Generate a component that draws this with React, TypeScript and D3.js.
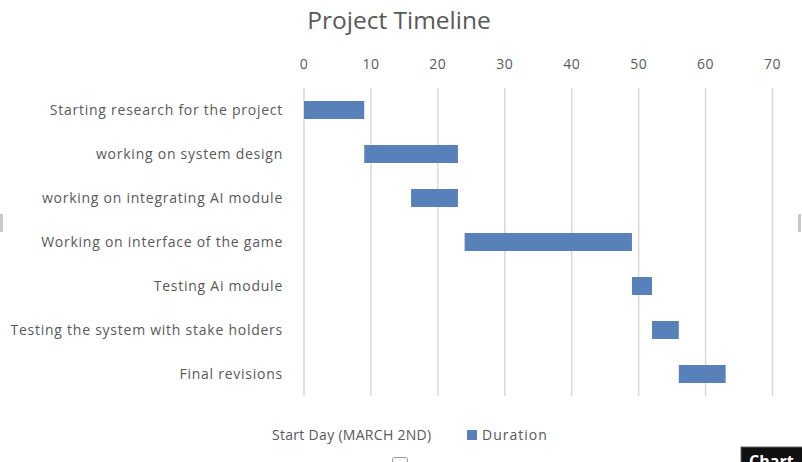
import React from "react";
import * as d3 from "d3";

const tasks = [
  "Starting research for the project",
  "working on system design",
  "working on integrating AI module",
  "Working on interface of the game",
  "Testing Ai module",
  "Testing the system with stake holders",
  "Final revisions",
];
const startDays = [0, 9, 16, 24, 49, 52, 56];
const durations = [9, 14, 7, 25, 3, 4, 7];
const xTicks = [0, 10, 20, 30, 40, 50, 60, 70];
const legendLabels = ["Start Day (MARCH 2ND)", "Duration"];

const W = 802;
const H = 462;
const FONT = "'Open Sans', Lato, sans-serif";
const TEXT = "#595959";
const BAR = "#5880b9";
const GRID = "#d9d9d9";

export default function App() {
  const x = d3.scaleLinear().domain([0, 70]).range([304, 772.5]);
  const y = d3.scaleBand<string>().domain(tasks).range([88, 396]).paddingInner(0.59).paddingOuter(0.295);

  return (
    <div style={{ position: "fixed", left: 0, top: 0 }}>
      <svg width={W} height={H} style={{ display: "block", background: "#fff" }}>
        <rect x={0} y={0} width={W} height={H} fill="#fff" />
        <text x={399} y={29} textAnchor="middle" fontFamily={FONT} fontSize={24.5} fill={TEXT}>
          Project Timeline
        </text>
        {xTicks.map((t) => (
          <g key={t}>
            <line x1={x(t)} x2={x(t)} y1={88} y2={396} stroke={GRID} strokeWidth={1.5} />
            <text x={x(t)} y={69} textAnchor="middle" fontFamily={FONT} fontSize={14} letterSpacing={0.5} fill={TEXT}>
              {t}
            </text>
          </g>
        ))}
        {tasks.map((t, i) => (
          <g key={t}>
            <text
              x={283}
              y={(y(t) as number) + y.bandwidth() / 2 + 5}
              textAnchor="end"
              fontFamily={FONT}
              fontSize={14}
              letterSpacing={0.75}
              fill={TEXT}
            >
              {t}
            </text>
            <rect
              x={x(startDays[i])}
              y={y(t)}
              width={x(startDays[i] + durations[i]) - x(startDays[i])}
              height={y.bandwidth()}
              fill={BAR}
            />
          </g>
        ))}
        <text x={272} y={440} fontFamily={FONT} fontSize={14} letterSpacing={0.3} fill={TEXT}>
          {legendLabels[0]}
        </text>
        <rect x={467} y={430} width={10} height={10} fill={BAR} />
        <text x={482} y={440} fontFamily={FONT} fontSize={14} letterSpacing={1} fill={TEXT}>
          {legendLabels[1]}
        </text>
        {/* selection handles / overlay artifacts */}
        <rect x={0} y={214} width={3} height={18} fill="#c8c8c8" />
        <rect x={798} y={214} width={3} height={18} fill="#c8c8c8" />
        <rect x={392.5} y={457.5} width={15} height={8} fill="#fff" stroke="#999" rx={2} />
        <rect x={741} y={447} width={70} height={20} fill="#111" stroke="#666" />
        <text x={749} y={467} fontFamily={FONT} fontSize={16} fontWeight={700} fill="#fff">
          Chart
        </text>
      </svg>
    </div>
  );
}
